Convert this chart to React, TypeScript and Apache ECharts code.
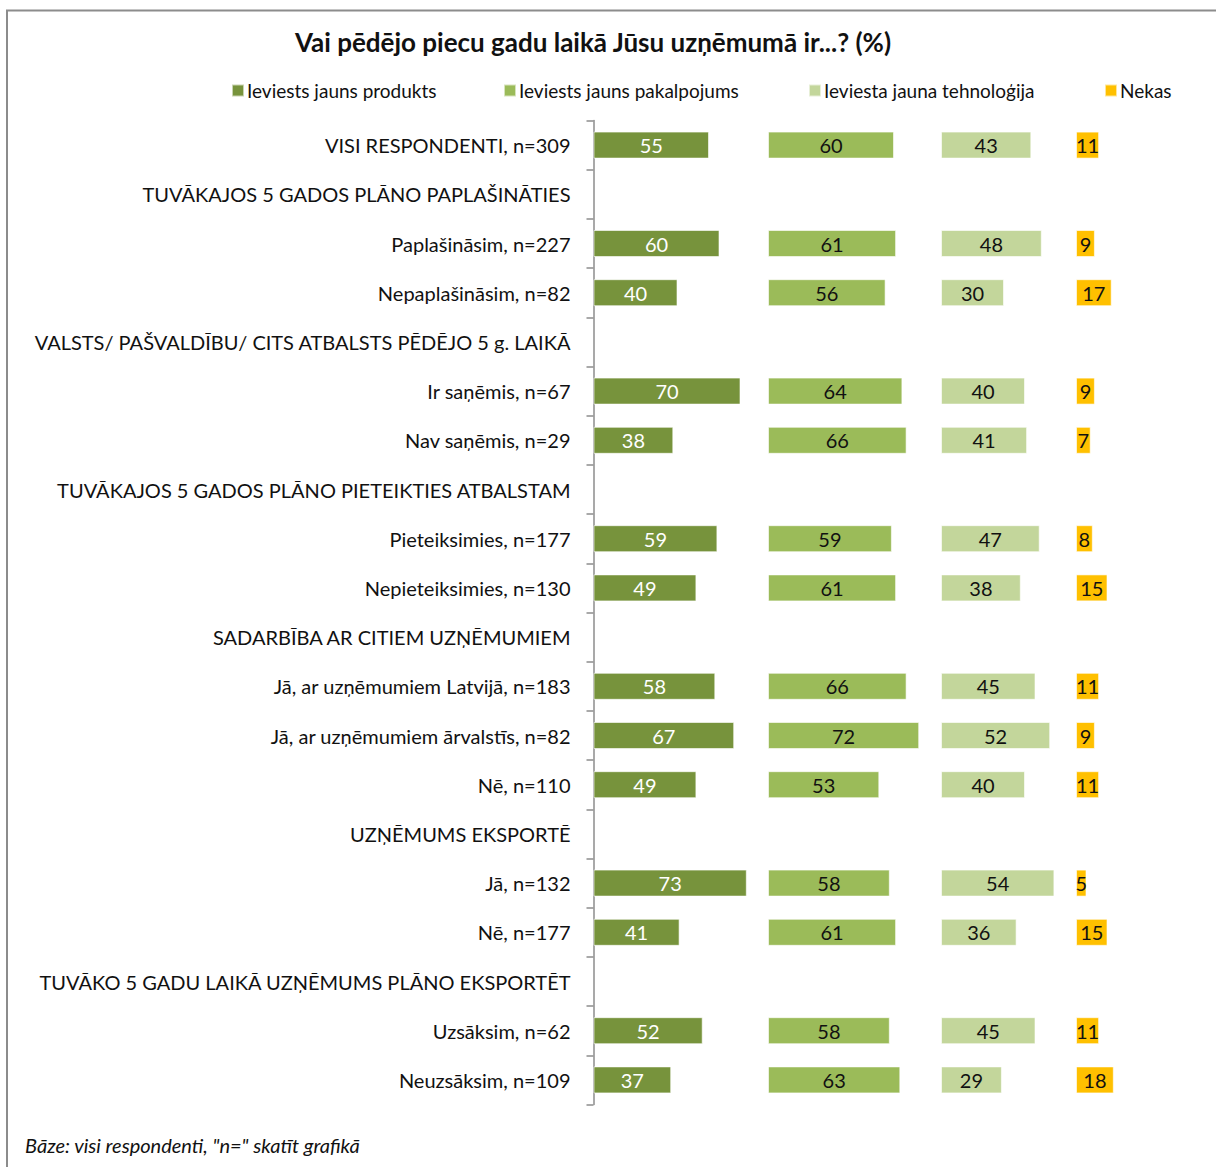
import React, { useEffect, useRef } from "react";
import * as echarts from "echarts";

const categories: string[] = [
  "VISI RESPONDENTI, n=309",
  "TUVĀKAJOS 5 GADOS PLĀNO PAPLAŠINĀTIES",
  "Paplašināsim, n=227",
  "Nepaplašināsim, n=82",
  "VALSTS/ PAŠVALDĪBU/ CITS ATBALSTS PĒDĒJO 5 g. LAIKĀ",
  "Ir saņēmis, n=67",
  "Nav saņēmis, n=29",
  "TUVĀKAJOS 5 GADOS PLĀNO PIETEIKTIES ATBALSTAM",
  "Pieteiksimies, n=177",
  "Nepieteiksimies, n=130",
  "SADARBĪBA AR CITIEM UZŅĒMUMIEM",
  "Jā, ar uzņēmumiem Latvijā, n=183",
  "Jā, ar uzņēmumiem ārvalstīs, n=82",
  "Nē, n=110",
  "UZŅĒMUMS EKSPORTĒ",
  "Jā, n=132",
  "Nē, n=177",
  "TUVĀKO 5 GADU LAIKĀ UZŅĒMUMS PLĀNO EKSPORTĒT",
  "Uzsāksim, n=62",
  "Neuzsāksim, n=109",
];

const seriesNames: string[] = [
  "Ieviests jauns produkts",
  "Ieviests jauns pakalpojums",
  "Ieviesta jauna tehnoloģija",
  "Nekas",
];

const produkts: (number | null)[] = [55, null, 60, 40, null, 70, 38, null, 59, 49, null, 58, 67, 49, null, 73, 41, null, 52, 37];
const pakalpojums: (number | null)[] = [60, null, 61, 56, null, 64, 66, null, 59, 61, null, 66, 72, 53, null, 58, 61, null, 58, 63];
const tehnologija: (number | null)[] = [43, null, 48, 30, null, 40, 41, null, 47, 38, null, 45, 52, 40, null, 54, 36, null, 45, 29];
const nekas: (number | null)[] = [11, null, 9, 17, null, 9, 7, null, 8, 15, null, 11, 9, 11, null, 5, 15, null, 11, 18];

const colors = ["#77933C", "#9BBB59", "#C3D69B", "#FFC000"];
const labelColors = ["#ffffff", "#111111", "#111111", "#111111"];
const panelLefts = [593.5, 768, 941, 1076];
const panelMax = [100, 100, 100, 60];
const legendLefts = [231, 503, 808, 1104];
const PX_PER_UNIT = 2.1;

const FONT = "Lato";

export default function App() {
  const ref = useRef<HTMLDivElement>(null);
  useEffect(() => {
    if (!ref.current) return;
    const chart = echarts.init(ref.current, null, { renderer: "svg" });
    const datasets = [produkts, pakalpojums, tehnologija, nekas];
    const top = 120.5;
    const height = 984;
    const grid = panelLefts.map((l, i) => ({
      left: l,
      top,
      width: panelMax[i] * PX_PER_UNIT,
      height,
      containLabel: false,
    }));
    const xAxis = panelLefts.map((_, i) => ({
      type: "value",
      gridIndex: i,
      min: 0,
      max: panelMax[i],
      show: false,
    }));
    const yAxis = panelLefts.map((_, i) => ({
      type: "category",
      gridIndex: i,
      data: categories,
      inverse: true,
      show: i === 0,
      axisLine: { show: true, lineStyle: { color: "#8c8c8c", width: 1.5 } },
      axisTick: { show: true, length: 7, lineStyle: { color: "#8c8c8c", width: 1.5 } },
      axisLabel: { fontFamily: FONT, fontSize: 20, color: "#111", margin: 23 },
      offset: 0,
    }));
    const series = datasets.map((d, i) => ({
      name: seriesNames[i],
      type: "bar",
      xAxisIndex: i,
      yAxisIndex: i,
      data: d,
      barWidth: 27,
      itemStyle: { color: colors[i], borderColor: "rgba(255,255,255,0.6)", borderWidth: 1 },
      label: {
        show: true,
        position: "inside",
        color: labelColors[i],
        fontFamily: FONT,
        fontSize: 20,
        formatter: "{c}",
      },
    }));
    const legend = seriesNames.map((n, i) => ({
      data: [n],
      left: legendLefts[i],
      top: 81,
      itemWidth: 12,
      itemHeight: 12,
      itemGap: 0,
      icon: "rect",
      textStyle: { fontFamily: FONT, fontSize: 19, color: "#111", padding: [0, 0, 0, -2] },
      padding: 0,
    }));
    chart.setOption({
      animation: false,
      backgroundColor: "#ffffff",
      legend,
      grid,
      xAxis,
      yAxis,
      series,
      graphic: [
        {
          type: "rect",
          shape: { x: 7, y: 10.5, width: 1400, height: 1400 },
          style: { fill: "none", stroke: "#8c8c8c", lineWidth: 2 },
          silent: true,
        },
        {
          type: "text",
          x: 593,
          y: 42,
          style: {
            text: "Vai pēdējo piecu gadu laikā Jūsu uzņēmumā ir...? (%)",
            fontFamily: FONT,
            fontSize: 26,
            fontWeight: "bold",
            fill: "#111",
            align: "center",
            verticalAlign: "middle",
          },
        },
        {
          type: "text",
          left: 25,
          top: 1135,
          style: {
            text: "Bāze: visi respondenti, \"n=\" skatīt grafikā",
            fontFamily: FONT,
            fontSize: 20,
            fontStyle: "italic",
            fill: "#111",
          },
        },
      ],
    });
    return () => chart.dispose();
  }, []);
  return (
    <div style={{ position: "fixed", left: 0, top: 0, width: 1216, height: 1167, background: "#fff" }}>
      <div ref={ref} style={{ width: 1216, height: 1167 }} />
    </div>
  );
}
